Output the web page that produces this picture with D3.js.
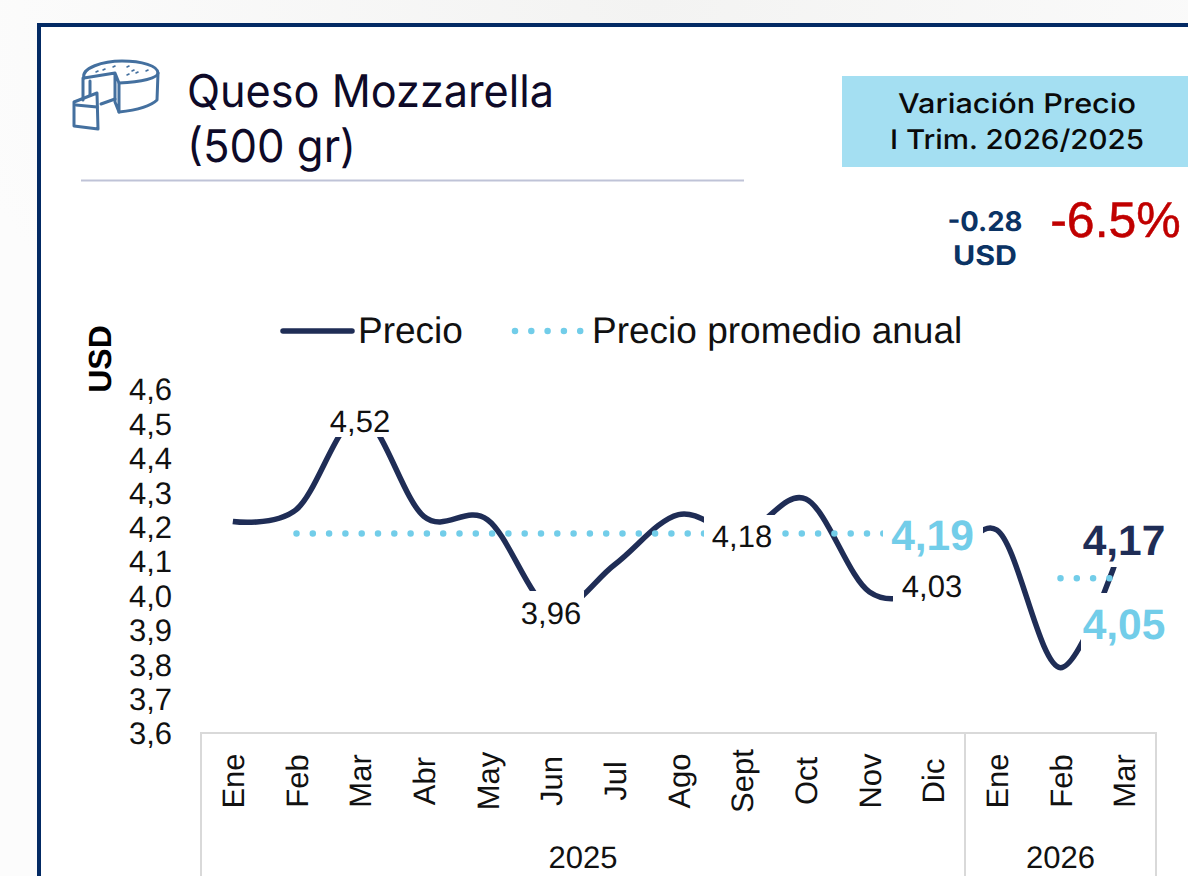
<!DOCTYPE html>
<html><head><meta charset="utf-8">
<script src="https://cdnjs.cloudflare.com/ajax/libs/d3/7.8.5/d3.min.js"></script>
<style>html,body{margin:0;padding:0;background:#fff;overflow:hidden}svg{display:block;text-rendering:geometricPrecision}text{font-family:"Liberation Sans",Arial,sans-serif}</style>
</head><body><div id="c"></div>
<script>
const months=["Ene","Feb","Mar","Abr","May","Jun","Jul","Ago","Sept","Oct","Nov","Dic","Ene","Feb","Mar"];
const years=[{name:"2025",n:12},{name:"2026",n:3}];
const precio=[4.215,4.25,4.52,4.23,4.22,3.96,4.09,4.235,4.18,4.28,4.01,4.03,4.19,3.79,4.17];
const promedio2025=[4.18,4.18,4.18,4.18,4.18,4.18,4.18,4.18,4.18,4.18,4.18];
const promedio2026=[4.05,4.05];
const yTicks=[3.6,3.7,3.8,3.9,4.0,4.1,4.2,4.3,4.4,4.5,4.6];
const W=1188,H=876,navy="#1f2d56",sky="#72cde9";
const comma=v=>d3.format(".1f")(v).replace(".",",");
const comma2=v=>d3.format(".2f")(v).replace(".",",");

const svg=d3.select("#c").append("svg").attr("width",W).attr("height",H);
const defs=svg.append("defs");
const g1=defs.append("radialGradient").attr("id","bg").attr("cx","55%").attr("cy","0%").attr("r","60%");
g1.append("stop").attr("offset","0").attr("stop-color","#f3f3f2");
g1.append("stop").attr("offset","1").attr("stop-color","#fcfcfc");
svg.append("rect").attr("width",W).attr("height",H).attr("fill","url(#bg)");
svg.append("rect").attr("x",39).attr("y",25).attr("width",W).attr("height",H).attr("fill","#fff").attr("stroke","#032a64").attr("stroke-width",4);

/* icon */
const ic=svg.append("g").attr("fill","none").attr("stroke","#44709f").attr("stroke-width",3).attr("stroke-linejoin","round").attr("stroke-linecap","round");
["M84 78C81 68 103 61 122 61C142 61 158 66 158 73C158 78 142 82 119 83",
 "M84 78L115 73L119 83L119 112L115 102L115 73",
 "M158 73L157 100C150 107 137 110 119 112",
 "M83 78L83 100M90 81L90 95",
 "M101 104L115 99",
 "M74 102L97 93L98 129L74 126Z",
 "M76 105L97 107"].forEach(d=>ic.append("path").attr("d",d));
ic.append("g").attr("stroke-width",1.6).selectAll("path")
  .data([[96,72],[103,70],[113,67],[127,67],[136,73],[127,75],[146,71],[132,71]])
  .join("path").attr("d",d=>`M${d[0]} ${d[1]}l2 -1`);

/* heading */
const headFont="Inter";
const head=(t,xp,yp,size,len,col,anchor,weight)=>svg.append("text").attr("x",xp).attr("y",yp).attr("font-size",size)
  .attr("text-anchor",anchor||"start").attr("font-weight",weight||400).style("font-family",headFont).attr("fill",col)
  .attr("textLength",len).attr("lengthAdjust","spacingAndGlyphs").text(t);
head("Queso Mozzarella",187,107,45,367,"#0e0a28");
head("(500 gr)",187,162,45,169,"#0e0a28");
svg.append("line").attr("x1",81).attr("x2",744).attr("y1",180.5).attr("y2",180.5).attr("stroke","#bfc3d7").attr("stroke-width",2);

svg.append("rect").attr("x",842).attr("y",76).attr("width",346).attr("height",91).attr("fill","#a4dff2");
head("Variación Precio",1017,113,27,238,"#0a0a0a","middle",500);
head("I Trim. 2026/2025",1017,149,27,254,"#0a0a0a","middle",500);
head("-0.28",985,231,27,75,"#0b3364","middle",700);
head("USD",985,265,27,64,"#0b3364","middle",700);
svg.append("text").attr("x",1115.5).attr("y",237).attr("text-anchor","middle").attr("font-size",50).attr("fill","#c00000").attr("stroke","#c00000").attr("stroke-width",0.5).text("-6.5%");

/* scales */
const x=d3.scaleBand().domain(d3.range(months.length)).range([201,1156]);
const y=d3.scaleLinear().domain([3.6,4.6]).range([733,389]);
const cx=i=>x(i)+x.bandwidth()/2;

/* y axis */
const ya=svg.append("g").attr("transform","translate(172,1)").call(d3.axisLeft(y).tickValues(yTicks).tickFormat(comma).tickSize(0).tickPadding(0));
ya.select(".domain").remove();
ya.selectAll("text").attr("font-size",31).attr("fill","#111").style("font-family",'"Liberation Sans"');
svg.append("text").attr("transform","translate(111,359) rotate(-90)").attr("text-anchor","middle").attr("font-size",32).attr("font-weight",700).attr("fill","#000").text("USD");

/* lines */
const line=d3.line().x((d,i)=>cx(i)).y(d=>y(d)).curve(d3.curveCatmullRom.alpha(0));
svg.append("path").datum(precio).attr("d",line).attr("fill","none").attr("stroke",navy).attr("stroke-width",5.5).attr("stroke-linecap","butt");
const dotted=(vals,start)=>svg.append("path").datum(vals)
  .attr("d",d3.line().x((d,i)=>cx(i+start)).y(d=>y(d)))
  .attr("fill","none").attr("stroke",sky).attr("stroke-width",6.5).attr("stroke-linecap","round").attr("stroke-dasharray","0 16.3");
dotted(promedio2025,1);
dotted(promedio2026,13);

/* data labels with white boxes */
const labels=[
 {v:precio[2],box:[328,405,392,437],size:31,col:"#111",w:400,yc:421,xc:360},
 {v:precio[5],box:[519,591,584,630],size:31,col:"#111",w:400,yc:613,xc:551},
 {v:precio[8],box:[704,515,781,553],size:31,col:"#111",w:400,yc:536,xc:742},
 {v:precio[11],box:[893,560,972,605],size:31,col:"#111",w:400,yc:586,xc:932},
 {v:promedio2025[0]+0.01,box:[883,510,983,562],size:42.5,col:sky,w:700,yc:535,xc:932.5},
 {v:precio[14],box:[1081,512,1172,567],size:42.5,col:navy,w:700,yc:540,xc:1124},
 {v:promedio2026[1],box:[1081,593,1172,652],size:42.5,col:sky,w:700,yc:624,xc:1124}
];
const lg=svg.append("g");
lg.selectAll("rect").data(labels).join("rect")
  .attr("x",d=>d.box[0]).attr("y",d=>d.box[1]).attr("width",d=>d.box[2]-d.box[0]).attr("height",d=>d.box[3]-d.box[1]).attr("fill","#fff");
lg.selectAll("text").data(labels).join("text")
  .attr("x",d=>d.xc).attr("y",d=>d.yc).attr("dy","0.35em").attr("text-anchor","middle")
  .attr("font-size",d=>d.size).attr("font-weight",d=>d.w).attr("fill",d=>d.col).text(d=>comma2(d.v));

/* legend */
svg.append("line").attr("x1",283).attr("x2",352).attr("y1",331).attr("y2",331).attr("stroke",navy).attr("stroke-width",5.5).attr("stroke-linecap","round");
svg.append("text").attr("x",358).attr("y",343).attr("font-size",37).attr("fill","#111").text("Precio");
svg.append("line").attr("x1",515).attr("x2",585).attr("y1",331).attr("y2",331).attr("stroke",sky).attr("stroke-width",6.5).attr("stroke-linecap","round").attr("stroke-dasharray","0 16.3");
svg.append("text").attr("x",592).attr("y",343).attr("font-size",37).attr("fill","#111").text("Precio promedio anual");

/* category axis */
const grid="#d9d9d9";
const xa=svg.append("g");
xa.append("path").attr("d",`M201 876V733H1156V876M965 733V876`).attr("fill","none").attr("stroke",grid).attr("stroke-width",2);
xa.selectAll("text.m").data(months).join("text").attr("class","m")
  .attr("transform",(d,i)=>`translate(${cx(i)+11},${781}) rotate(-90)`)
  .attr("text-anchor","middle").attr("font-size",31).attr("fill","#111").text(d=>d);
let acc=0;
years.forEach(yr=>{
  const a=x(acc),b=x(acc+yr.n-1)+x.bandwidth();
  svg.append("text").attr("x",(a+b)/2).attr("y",868).attr("text-anchor","middle").attr("font-size",31).attr("fill","#111").text(yr.name);
  acc+=yr.n;
});
</script></body></html>
